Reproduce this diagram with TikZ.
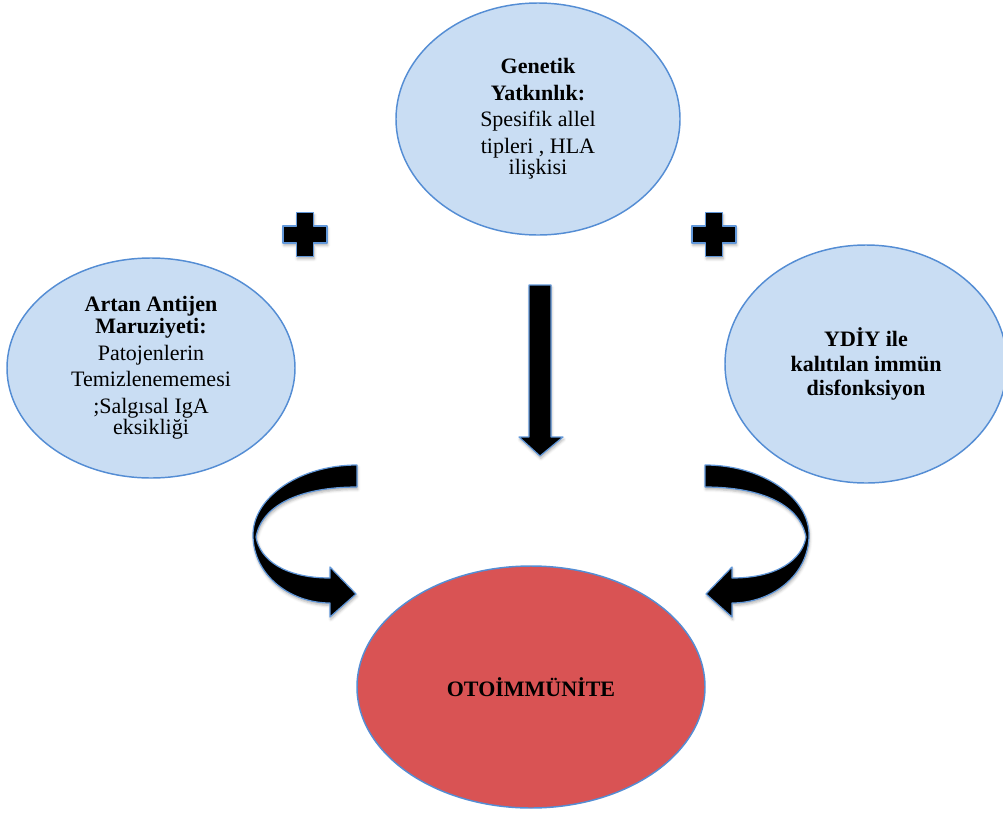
\documentclass[tikz,border=0pt]{standalone}
\usepackage{fontspec}
\setmainfont{Liberation Serif}
\usetikzlibrary{shapes.geometric,shadows.blur}
\definecolor{bubblefill}{RGB}{201,221,243}
\definecolor{bubbleline}{RGB}{84,141,212}
\definecolor{corefill}{RGB}{217,83,84}
\definecolor{arrowedge}{RGB}{98,152,218}
\tikzset{
  bubble/.style={ellipse, draw=bubbleline, line width=1.1pt, fill=bubblefill,
    inner sep=0pt, align=center, font=\fontsize{16.5pt}{20pt}\selectfont},
  core/.style={bubble, fill=corefill},
  blockshape/.style={fill=black, draw=arrowedge, line width=0.9pt, line join=round,
    blur shadow={shadow xshift=0.6pt, shadow yshift=-1.8pt, shadow opacity=30,
      shadow blur radius=2pt}},
}
% curved block arrow bending left and pointing back to the right
\newcommand{\bentarrow}{%
  \path[blockshape] (357,465) .. controls (300,465) and (253,497) .. (253,535)
    .. controls (253,575) and (290,603) .. (330,603)
    -- (330,617) -- (356,594) -- (330,567) -- (330,578)
    .. controls (285,578) and (260,560) .. (256,537)
    .. controls (262,505) and (300,487) .. (357,487) -- cycle;}
% plus sign centred at the origin of the current scope
\newcommand{\plusmark}{%
  \path[blockshape] (-8.5,-22) -- (8.5,-22) -- (8.5,-8.5) -- (22,-8.5) -- (22,8.5)
    -- (8.5,8.5) -- (8.5,22) -- (-8.5,22) -- (-8.5,8.5) -- (-22,8.5) -- (-22,-8.5)
    -- (-8.5,-8.5) -- cycle;}
\begin{document}
\begin{tikzpicture}[x=0.75pt,y=-0.75pt]
\useasboundingbox (0,0) rectangle (1003,814);

% causes
\node[bubble, minimum width=213pt, minimum height=174pt] (genetic) at (538,119)
  {\textbf{Genetik}\\\textbf{Yatkınlık:}\\Spesifik allel\\tipleri , HLA\\[-4pt]ilişkisi};
\node[bubble, minimum width=216pt, minimum height=165pt] (antigen) at (151,368)
  {\textbf{Artan Antijen}\\[-3.5pt]\textbf{Maruziyeti:}\\Patojenlerin\\Temizlenememesi\\;Salgısal IgA\\[-4pt]eksikliği};
\node[bubble, minimum width=211.5pt, minimum height=178.5pt] (ydiy) at (866,364)
  {\textbf{YDİY ile}\\[-1.6pt]\textbf{kalıtılan immün}\\[-1.6pt]\textbf{disfonksiyon}};

% outcome
\node[core, minimum width=261pt, minimum height=181.5pt] (auto) at (531,687)
  {\textbf{OTOİMMÜNİTE}};

% plus signs
\begin{scope}[shift={(305,234.5)}] \plusmark \end{scope}
\begin{scope}[shift={(714,234.5)}] \plusmark \end{scope}

% straight block arrow down the middle
\path[blockshape] (529,285) -- (551,285) -- (551,437) -- (563,437) -- (540,456)
  -- (519,437) -- (529,437) -- cycle;

% curved block arrows into the outcome
\bentarrow
\begin{scope}[shift={(1062,0)}, xscale=-1] \bentarrow \end{scope}
\end{tikzpicture}
\end{document}
